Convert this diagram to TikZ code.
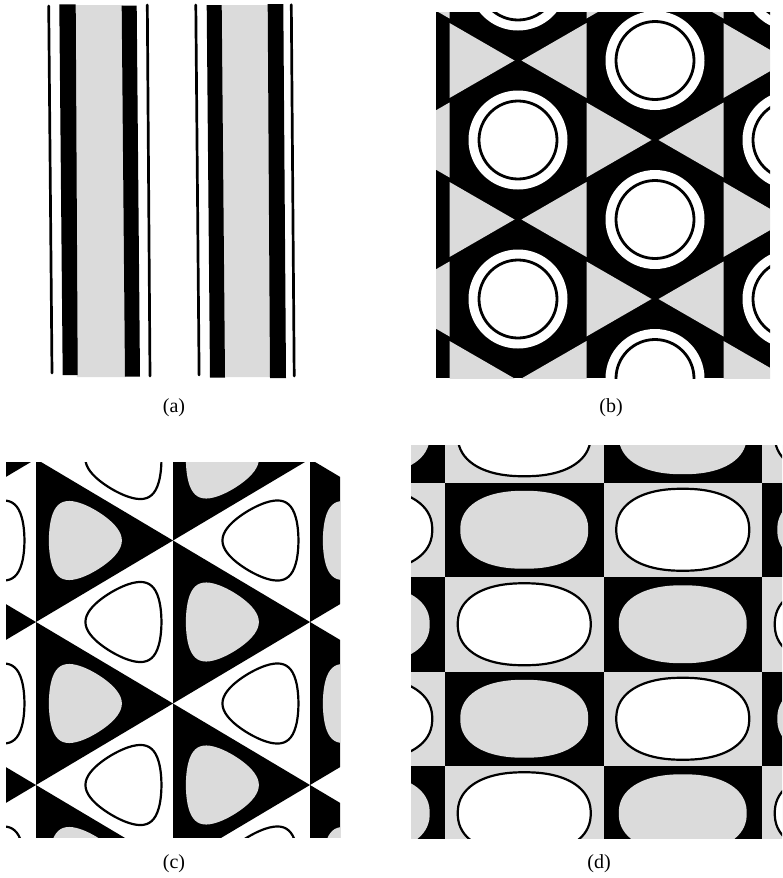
\documentclass[tikz,border=0pt]{standalone}
\usepackage{fontspec}
\setmainfont{Liberation Serif}
\definecolor{stip}{gray}{0.86}
\tikzset{
  lab/.style={font=\fontsize{10}{12}\selectfont, inner sep=0pt},
  thinline/.style={line width=1.35pt, line cap=round},
  ring/.style={draw=black, line width=1.4pt},
  outl/.style={fill=white, draw=black, line width=1.1pt},
}
\begin{document}
\begin{tikzpicture}[x=0.5pt,y=-0.5pt]
\useasboundingbox (0,0) rectangle (782,878);
\fill[white] (0,0) rectangle (782,878);

% ---------- (a) stripes ----------
\fill[stip] (75,5) -- (123,5) -- (126,377) -- (77,377) -- cycle;
\fill[stip] (221,5) -- (269,5) -- (271,377) -- (224,377) -- cycle;
\fill (59.3,4.3) -- (75.7,4.3) -- (77.7,375) -- (62.7,375) -- cycle;
\fill (121.7,5.7) -- (136.7,5.7) -- (140,376.7) -- (125,376.7) -- cycle;
\fill (206.7,5) -- (221.7,5) -- (225,377.7) -- (210,377.7) -- cycle;
\fill (267.7,4) -- (283.3,4) -- (286,378) -- (270,378) -- cycle;
\draw[thinline] (48.7,6) -- (52,373);
\draw[thinline] (147.3,5) -- (150,376);
\draw[thinline] (195.8,5) -- (199.1,375);
\draw[thinline] (291.3,4.7) -- (294.2,376);

% ---------- (b) hexagons, triangles, rings ----------
\begin{scope}
\clip (436,12) rectangle (770,378);
\fill (436,12) rectangle (770,378);
\foreach \cx/\yb in {381/-19, 518/60.5, 655/-19, 792/60.5} {
  \foreach \m in {-1,...,3} {
    \pgfmathsetmacro\yy{\yb+159*\m}
    \pgfmathsetmacro\yc{\yy+79.5}
    \fill[stip] (\cx-68.5,\yy-37.5) -- (\cx-3.5,\yy) -- (\cx-68.5,\yy+37.5) -- cycle;
    \fill[stip] (\cx+68.5,\yy-37.5) -- (\cx+3.5,\yy) -- (\cx+68.5,\yy+37.5) -- cycle;
    \fill[white] (\cx,\yc) circle[radius=49.5];
    \draw[ring] (\cx,\yc) circle[radius=39];
  }
}
\end{scope}

% ---------- (c) triangles ----------
\begin{scope}
\clip (6,462) rectangle (340,837);
\fill[white] (6,462) rectangle (340,837);
\foreach \xl/\yc in {-101/622, 36/540.5, 173/459, 310/540.5} {
  \foreach \m in {-1,...,2} {
    \pgfmathsetmacro\yy{\yc+163*\m}
    \pgfmathsetmacro\yw{\yy+81.5}
    \fill (\xl,\yy-81.5) -- (\xl+137,\yy) -- (\xl,\yy+81.5) -- cycle;
    \fill[stip] plot[smooth cycle, domain=0:354, samples=60, variable=\t]
      ({\xl+45+36.5*(cos(\t)+0.12*cos(2*\t))}, {\yy+38.5*(sin(\t)-0.12*sin(2*\t))});
    \draw[outl] plot[smooth cycle, domain=0:354, samples=60, variable=\t]
      ({\xl+137-45-38*(cos(\t)+0.12*cos(2*\t))}, {\yw+39*(sin(\t)-0.12*sin(2*\t))});
  }
}
\end{scope}

% ---------- (d) checkerboard ----------
\begin{scope}
\clip (411,445) rectangle (782,838);
\foreach \i in {-1,...,2} {
  \foreach \j in {-1,...,3} {
    \pgfmathsetmacro\xa{445+158.5*\i}
    \pgfmathsetmacro\ya{482.5+94.5*\j}
    \pgfmathsetmacro\xc{\xa+79.25}
    \pgfmathsetmacro\ycc{\ya+47.25}
    \pgfmathtruncatemacro\parity{mod(\i+\j+4,2)}
    \ifnum\parity=0
      \fill (\xa,\ya) rectangle ++(158.5,94.5);
      \fill[stip] plot[smooth cycle, domain=2.5:357.5, samples=72, variable=\t]
        ({\xc+64*cos(\t)/pow(abs(cos(\t)),0.12)}, {\ycc+39*sin(\t)/pow(abs(sin(\t)),0.12)});
    \else
      \fill[stip] (\xa,\ya) rectangle ++(158.5,94.5);
      \draw[outl] plot[smooth cycle, domain=2.5:357.5, samples=72, variable=\t]
        ({\xc+66.5*cos(\t)/pow(abs(cos(\t)),0.12)}, {\ycc+41*sin(\t)/pow(abs(sin(\t)),0.12)});
    \fi
  }
}
\end{scope}

% ---------- labels ----------
\node[lab] (la) at (174,408) {(a)};
\node[lab] (lb) at (611,408) {(b)};
\node[lab] (lc) at (174,864) {(c)};
\node[lab] (ld) at (599,864) {(d)};
\end{tikzpicture}
\end{document}
